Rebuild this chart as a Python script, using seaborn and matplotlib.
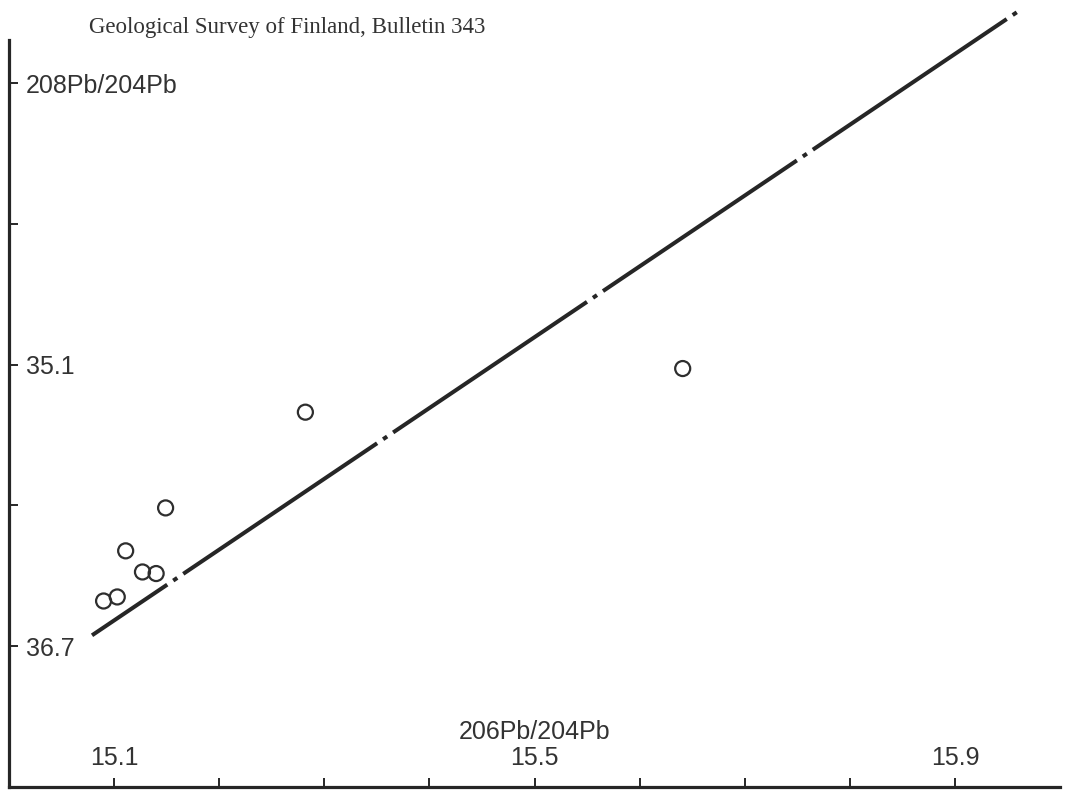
import matplotlib
matplotlib.use("Agg")
import matplotlib.pyplot as plt
import seaborn as sns

# lead isotope ratios
pb206 = [15.090, 15.103, 15.111, 15.127, 15.140, 15.149, 15.282, 15.641]
pb208 = [36.443, 36.420, 36.158, 36.278, 36.287, 35.914, 35.370, 35.122]

# reference line
line_x = [15.079, 15.961]
line_y = [36.638, 33.089]

xticks = [15.1, 15.2, 15.3, 15.4, 15.5, 15.6, 15.7, 15.8, 15.9]
xticklabels = ["15.1", "", "", "", "15.5", "", "", "", "15.9"]
yticks = [33.5, 34.3, 35.1, 35.9, 36.7]
yticklabels = ["208Pb/204Pb", "", "35.1", "", "36.7"]

sns.set_style("white")
plt.rcParams["font.family"] = ["Liberation Sans", "DejaVu Sans"]
plt.rcParams["lines.scale_dashes"] = False

ink = "#262626"
txt = "#333333"

fig = plt.figure(figsize=(10.7, 7.92), dpi=100)
ax = fig.add_axes([9 / 1070, 5 / 792, 1051 / 1070, 747 / 792])

sns.lineplot(x=line_x, y=line_y, ax=ax, sort=False, estimator=None,
             color=ink, linewidth=2.9, clip_on=False,
             linestyle=(103, (168.3, 5.2, 3.5, 5.2)))
sns.scatterplot(x=pb206, y=pb208, ax=ax, s=117, facecolors="none",
                edgecolor="#2e2e2e", linewidth=1.6, zorder=3)

ax.set_xlim(15.0, 16.0)
ax.set_ylim(37.5, 33.255)

for side in ["top", "right"]:
    ax.spines[side].set_visible(False)
for side in ["left", "bottom"]:
    ax.spines[side].set_linewidth(2.3)
    ax.spines[side].set_color(ink)

ax.set_xticks(xticks)
ax.set_xticklabels(xticklabels)
ax.set_yticks(yticks)
ax.set_yticklabels(yticklabels)

ax.tick_params(axis="both", direction="in", length=6.5, width=1.4,
               color=ink, labelcolor=txt, labelsize=18,
               bottom=True, left=True)
ax.tick_params(axis="y", pad=-12)
ax.tick_params(axis="x", pad=-12)
for lbl in ax.get_yticklabels():
    lbl.set_ha("left")
for lbl in ax.get_xticklabels():
    lbl.set_va("bottom")

ax.set_xlabel("206Pb/204Pb", fontsize=18, color=txt, va="center")
ax.xaxis.set_label_coords(0.5, 0.0736)
ax.set_ylabel("")

fig.text(287 / 1070, 1 - 33 / 792, "Geological Survey of Finland, Bulletin 343",
         family="Liberation Serif", fontsize=16.5, color=txt,
         ha="center", va="baseline")

fig.savefig("out.png", dpi=100)
